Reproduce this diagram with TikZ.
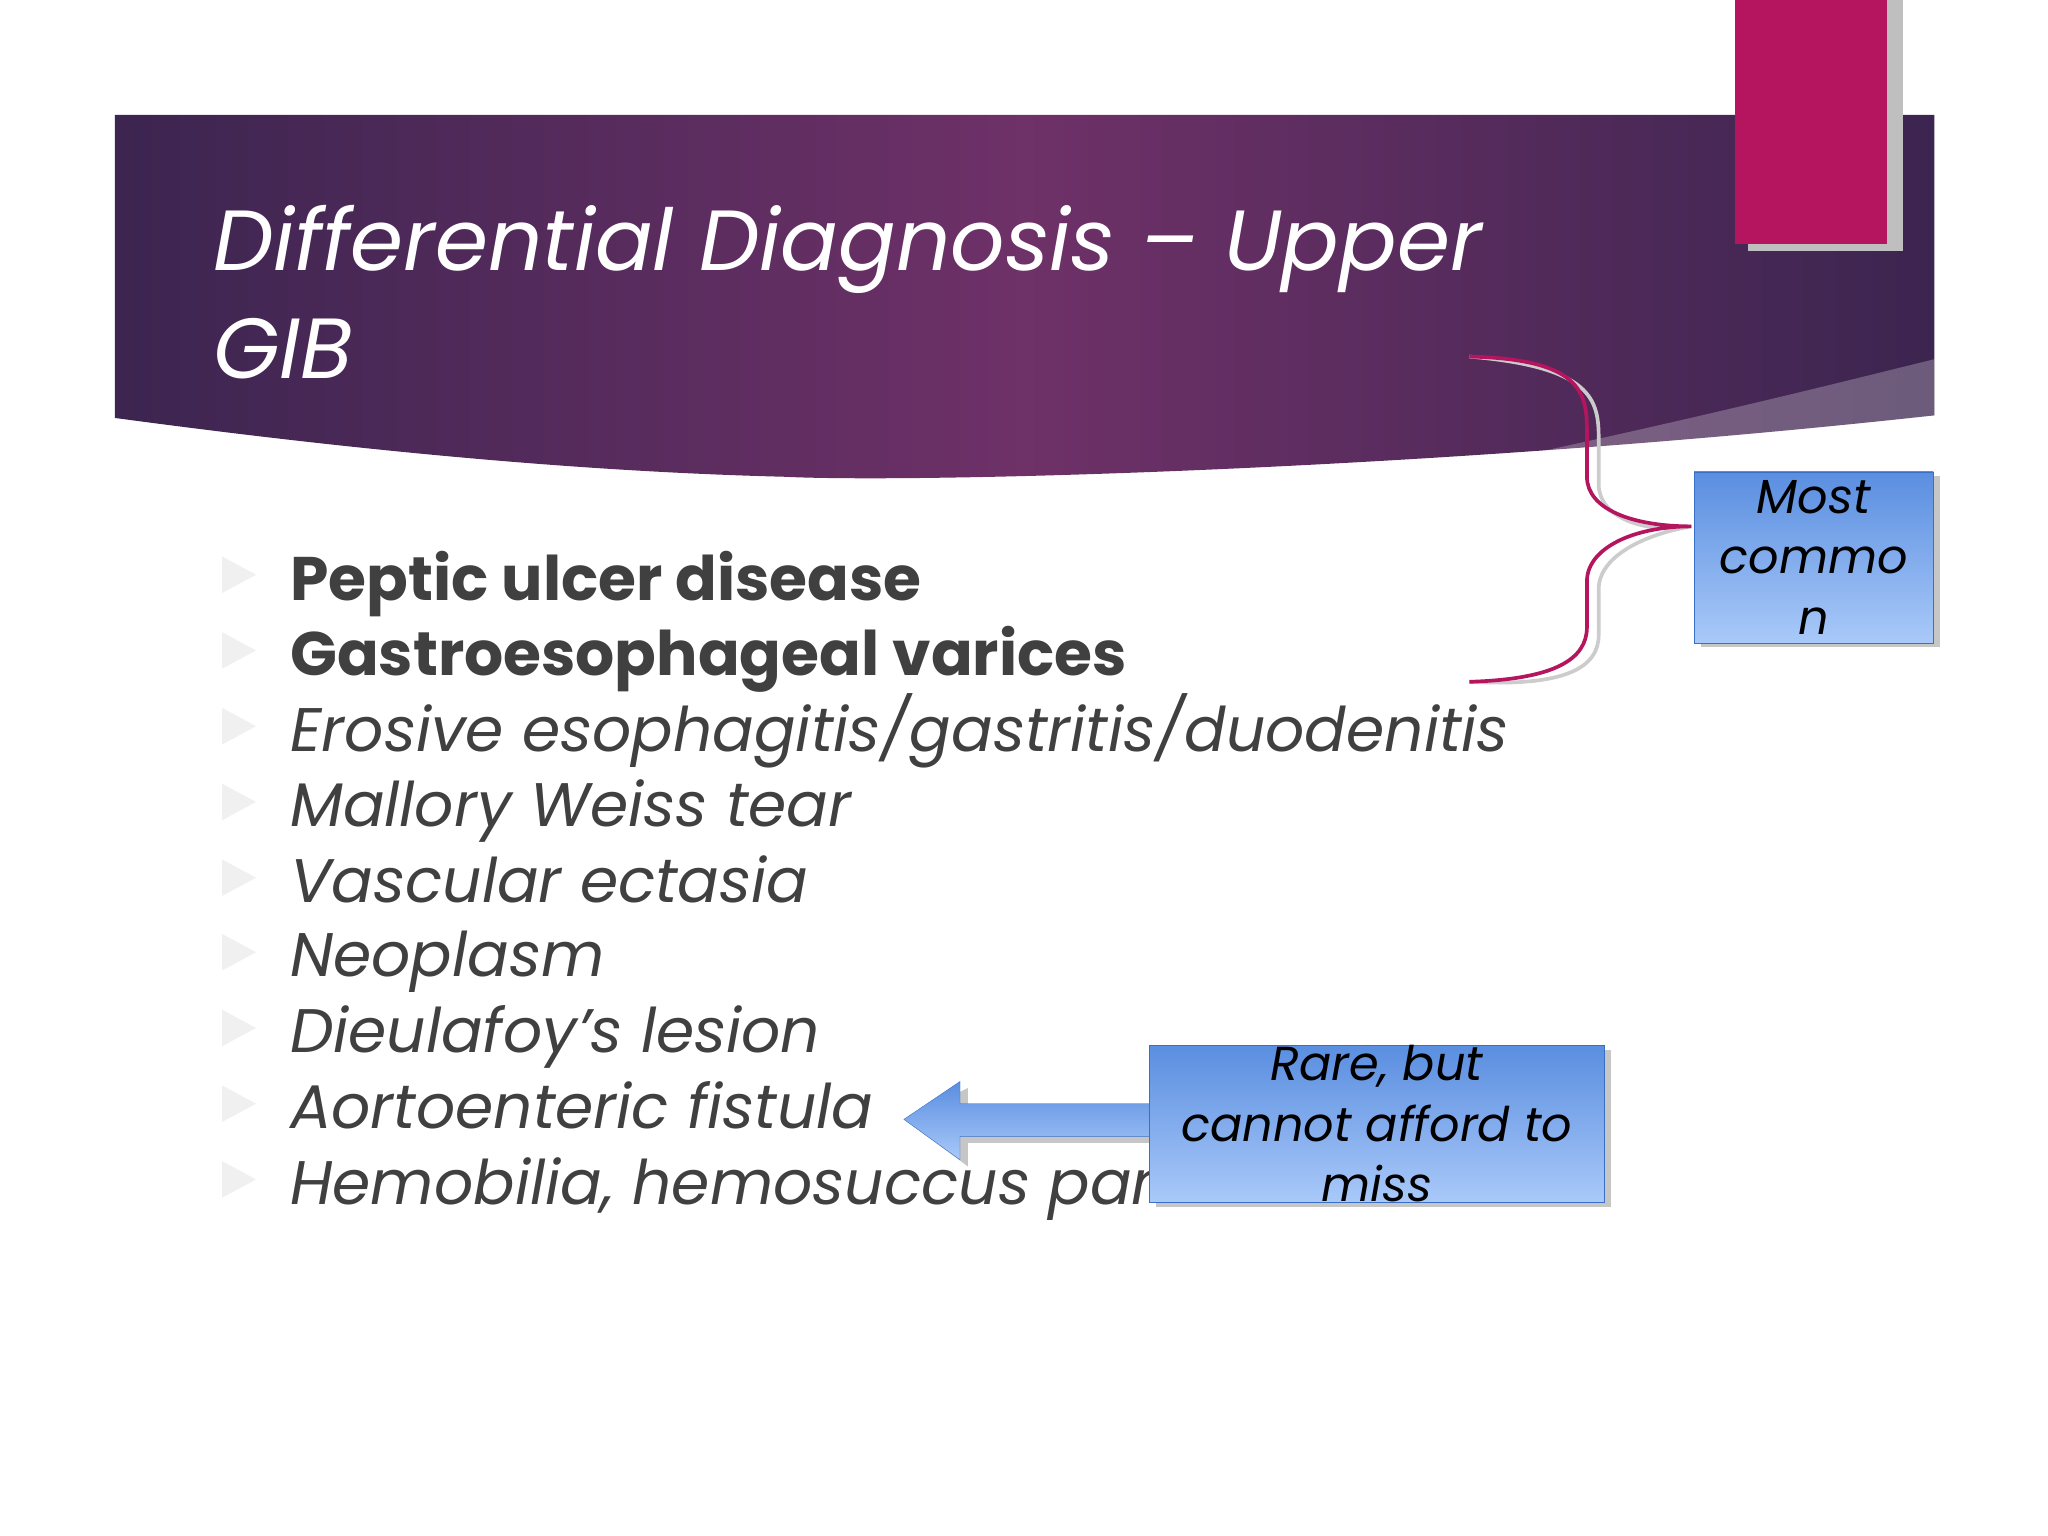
\documentclass[tikz,border=0pt]{standalone}
\usepackage{fontspec}
\setmainfont{Poppins}
\usetikzlibrary{shadows}
\definecolor{bandark}{HTML}{3C2550}
\definecolor{banmid}{HTML}{6E3168}
\definecolor{pinkbar}{HTML}{B5145E}
\definecolor{txt}{HTML}{404040}
\definecolor{boxtop}{HTML}{5A8EE0}
\definecolor{boxbot}{HTML}{A9C9F9}
\definecolor{boxline}{HTML}{3A6FC8}
\tikzset{
  bul/.style={fill=gray!12,draw=none},
  item/.style={anchor=base west,inner sep=0,text=txt},
  ifont/.style={font=\itshape\fontsize{67}{67}\selectfont},
  bfont/.style={font=\bfseries\fontsize{67}{67}\selectfont},
  brk/.style={line width=4pt},
  callout/.style={draw=boxline,top color=boxtop,bottom color=boxbot,drop shadow={shadow xshift=7pt,shadow yshift=-5pt,fill=gray!45,opacity=1},align=center,font=\itshape\fontsize{52}{66}\selectfont,inner sep=0},
}
\begin{document}
\begin{tikzpicture}[x=0.05cm,y=-0.05cm]
\useasboundingbox (0,0) rectangle (1568,1176);
\fill[white] (0,0) rectangle (1568,1176);
% banner
\shade[left color=bandark,right color=bandark,middle color=banmid] (88,88) -- (1481,88) -- (1481,318) .. controls (1100,360) and (700,370) .. (600,365) .. controls (400,360) and (200,335) .. (88,320) -- cycle;
\fill[white,opacity=0.25] (1481,275) -- (1481,318) .. controls (1400,328) and (1250,345) .. (1150,352) .. controls (1300,320) and (1400,295) .. cycle;
% pink bar
\fill[gray!50] (1338,0) rectangle (1457,192);
\fill[pinkbar] (1328,0) rectangle (1445,187);
\node[anchor=base west,inner sep=0,text=white,font=\itshape\fontsize{93}{93}\selectfont] (t1) at (163,207) {Differential Diagnosis – Upper};
\node[anchor=base west,inner sep=0,text=white,font=\itshape\fontsize{93}{93}\selectfont] (t2) at (163,290) {GIB};
% bullets
\foreach \y in {440,498,556,614,672,729,787,845,903}{
  \fill[bul] (170,\y-14) -- (196,\y) -- (170,\y+14) -- cycle;}
\node[item,bfont] (i1) at (222,460) {Peptic ulcer disease};
\node[item,bfont] (i2) at (222,517) {Gastroesophageal varices};
\node[item,ifont] (i3) at (222,575) {Erosive esophagitis/gastritis/duodenitis};
\node[item,ifont] (i4) at (222,633) {Mallory Weiss tear};
\node[item,ifont] (i5) at (222,691) {Vascular ectasia};
\node[item,ifont] (i6) at (222,748) {Neoplasm};
\node[item,ifont] (i7) at (222,806) {Dieulafoy’s lesion};
\node[item,ifont] (i8) at (222,864) {Aortoenteric fistula};
\node[item,ifont] (i9) at (222,922) {Hemobilia, hemosuccus pancreaticus};
% bracket
\coordinate (bt) at (1125,273);
\coordinate (bb) at (1125,522);
\coordinate (bm) at (1295,403);
\draw[gray!40,brk,shift={(9,6)}] (bt) .. controls (1210,275) and (1215,300) .. (1215,330) -- (1215,365) .. controls (1215,390) and (1250,403) .. (bm) .. controls (1250,403) and (1215,420) .. (1215,445) -- (1215,480) .. controls (1215,505) and (1190,520) .. (bb);
\draw[pinkbar,brk] (bt) .. controls (1210,275) and (1215,300) .. (1215,330) -- (1215,365) .. controls (1215,390) and (1250,403) .. (bm) .. controls (1250,403) and (1215,420) .. (1215,445) -- (1215,480) .. controls (1215,505) and (1190,520) .. (bb);
% callouts
\node[callout,minimum width=183*0.05cm,minimum height=131*0.05cm,anchor=north west] (mc) at (1297,361) {Most\\commo\\n};
% arrow
\coordinate (at) at (692,857);
\fill[gray!45,shift={(6,5)}] (at) -- (735,828) -- (735,845) -- (880,845) -- (880,870) -- (735,870) -- (735,888) -- cycle;
\shade[top color=boxtop,bottom color=boxbot,draw=boxline] (at) -- (735,828) -- (735,845) -- (880,845) -- (880,870) -- (735,870) -- (735,888) -- cycle;
\node[callout,minimum width=348*0.05cm,minimum height=118*0.05cm,anchor=north west] (rb) at (880,800) {Rare, but\\cannot afford to\\miss};
\end{tikzpicture}
\end{document}
